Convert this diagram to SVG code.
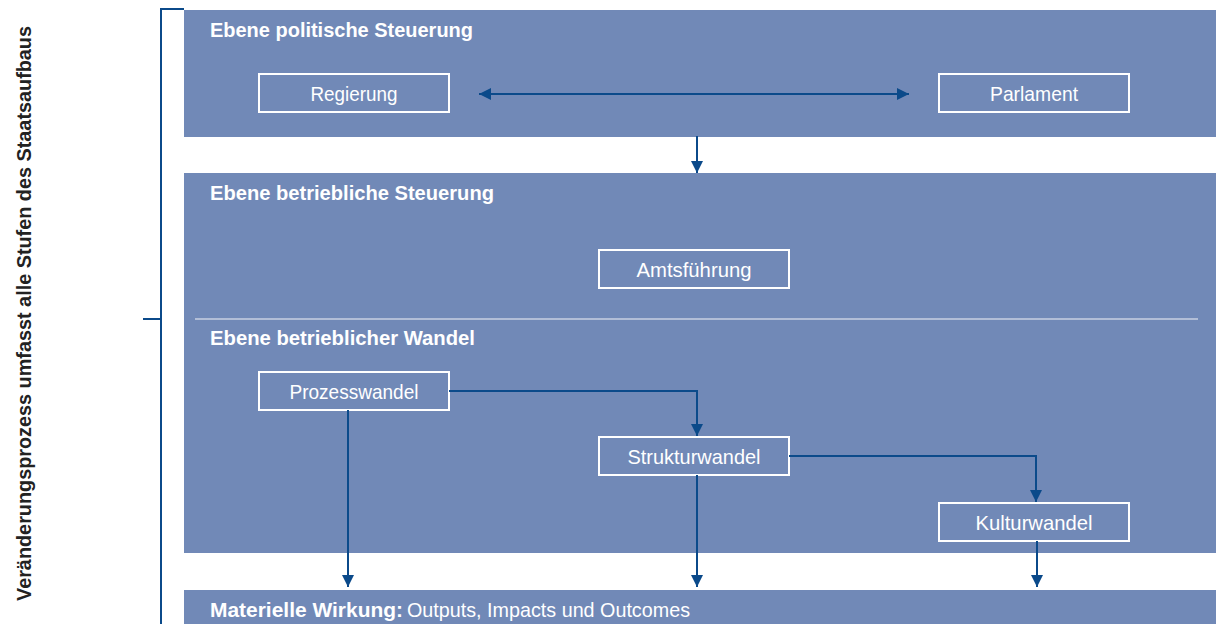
<svg xmlns="http://www.w3.org/2000/svg" width="1224" height="624" viewBox="0 0 1224 624">
<style>
.panel{fill:#7189b7}
.box{fill:none;stroke:#ffffff;stroke-width:2}
.h{font-family:"Liberation Sans",Arial,sans-serif;font-weight:bold;font-size:21px;fill:#ffffff}
.t{font-family:"Liberation Sans",Arial,sans-serif;font-size:21px;fill:#ffffff;text-anchor:middle}
.m{font-family:"Liberation Sans",Arial,sans-serif;font-size:21px;fill:#ffffff}
.c{fill:none;stroke:#0b4a8a;stroke-width:2}
.side{font-family:"Liberation Sans",Arial,sans-serif;font-weight:bold;font-size:20px;fill:#222222;text-anchor:middle}
</style>
<defs>
<marker id="ah" viewBox="0 0 10 10" refX="10" refY="5" markerWidth="7" markerHeight="6" markerUnits="strokeWidth" orient="auto-start-reverse">
<path d="M0,0 L10,5 L0,10 z" fill="#0b4a8a"/>
</marker>
</defs>
<rect width="1224" height="624" fill="#ffffff"/>
<g id="bracket">
<path d="M161,624 V9 H184 M143,319 H161" fill="none" stroke="#0b4a8a" stroke-width="2"/>
<text class="side" transform="translate(31,313.5) rotate(-90)" textLength="575" lengthAdjust="spacingAndGlyphs">Veränderungsprozess umfasst alle Stufen des Staatsaufbaus</text>
</g>
<g id="panel-politisch">
<rect class="panel" x="184" y="10" width="1032" height="127"/>
<text class="h" x="210" y="37" textLength="263" lengthAdjust="spacingAndGlyphs">Ebene politische Steuerung</text>
</g>
<g id="panel-betrieblich">
<rect class="panel" x="184" y="173" width="1032" height="380"/>
<text class="h" x="210" y="200" textLength="284" lengthAdjust="spacingAndGlyphs">Ebene betriebliche Steuerung</text>
<line x1="195" y1="319" x2="1198" y2="319" stroke="#c9d1e2" stroke-width="1.5"/>
<text class="h" x="210" y="345" textLength="265" lengthAdjust="spacingAndGlyphs">Ebene betrieblicher Wandel</text>
</g>
<g id="panel-wirkung">
<rect class="panel" x="184" y="590" width="1032" height="34"/>
<text class="m" x="210" y="617"><tspan font-weight="bold" textLength="193" lengthAdjust="spacingAndGlyphs">Materielle Wirkung:</tspan><tspan x="407" textLength="283" lengthAdjust="spacingAndGlyphs">Outputs, Impacts und Outcomes</tspan></text>
</g>
<g id="regierung">
<rect class="box" x="259" y="74" width="190" height="38"/>
<text class="t" x="354" y="101" textLength="87" lengthAdjust="spacingAndGlyphs">Regierung</text>
</g>
<g id="parlament">
<rect class="box" x="939" y="74" width="190" height="38"/>
<text class="t" x="1034" y="101" textLength="88" lengthAdjust="spacingAndGlyphs">Parlament</text>
</g>
<g id="amtsfuehrung">
<rect class="box" x="599" y="250" width="190" height="38"/>
<text class="t" x="694" y="277" textLength="115" lengthAdjust="spacingAndGlyphs">Amtsführung</text>
</g>
<g id="prozesswandel">
<rect class="box" x="259" y="372" width="190" height="38"/>
<text class="t" x="354" y="399" textLength="129" lengthAdjust="spacingAndGlyphs">Prozesswandel</text>
</g>
<g id="strukturwandel">
<rect class="box" x="599" y="437" width="190" height="38"/>
<text class="t" x="694" y="464" textLength="133" lengthAdjust="spacingAndGlyphs">Strukturwandel</text>
</g>
<g id="kulturwandel">
<rect class="box" x="939" y="503" width="190" height="38"/>
<text class="t" x="1034" y="530" textLength="117" lengthAdjust="spacingAndGlyphs">Kulturwandel</text>
</g>
<g id="connectors">
<path class="c" d="M479,94 H909" marker-start="url(#ah)" marker-end="url(#ah)"/>
<path class="c" d="M697,136 V173" marker-end="url(#ah)"/>
<path class="c" d="M449,391 H697 V436" marker-end="url(#ah)"/>
<path class="c" d="M789,456 H1036 V502" marker-end="url(#ah)"/>
<path class="c" d="M348,410 V587" marker-end="url(#ah)"/>
<path class="c" d="M697,475 V587" marker-end="url(#ah)"/>
<path class="c" d="M1037,541 V587" marker-end="url(#ah)"/>
</g>
</svg>
